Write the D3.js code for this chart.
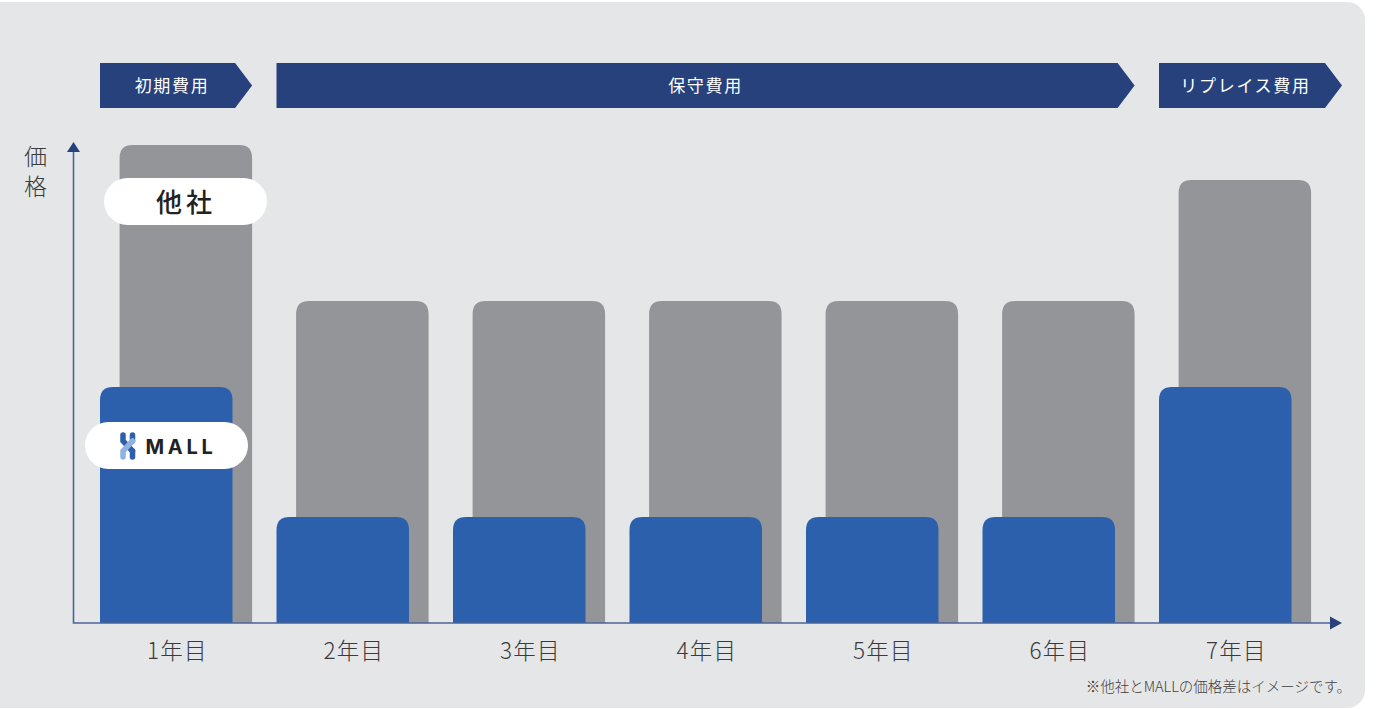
<!DOCTYPE html>
<html lang="ja">
<head>
<meta charset="utf-8">
<script src="https://cdn.jsdelivr.net/npm/d3@7"></script>
<style>
html, body { margin: 0; padding: 0; background: #fff; overflow: hidden; }
svg { display: block; }
text { font-family: "Noto Sans CJK JP", sans-serif; }
</style>
</head>
<body>
<svg id="chart" width="1382" height="709"></svg>
<script>
// data
var years = ["1年目", "2年目", "3年目", "4年目", "5年目", "6年目", "7年目"];
var otherValues = [478, 322, 322, 322, 322, 322, 443];
var mallValues = [236, 106, 106, 106, 106, 106, 236];
var phaseNames = ["初期費用", "保守費用", "リプレイス費用"];
var phaseFirst = [0, 1, 6];
var phaseLast = [0, 5, 6];

var width = 1382, height = 709;
var baseY = 623, barW = 132.5, barGap = 19.6;
var colors = { panel: "#e5e6e8", gray: "#949598", blue: "#2d60ac", navy: "#27417c", text: "#3a3a3a" };

var svg = d3.select("#chart");

var x = d3.scaleBand().domain(years).range([100, 1335.5]).padding(0);
var y = d3.scaleLinear().domain([0, 480]).range([baseY, baseY - 480]);

// panel, square on the right of the page edge
svg.append("rect")
    .attr("x", -20).attr("y", 2)
    .attr("width", 1385).attr("height", 706)
    .attr("rx", 18)
    .attr("fill", colors.panel);

// rounded top, square foot
function barPath(left, top, w, r) {
    return `M${left},${baseY}V${top + r}Q${left},${top} ${left + r},${top}` +
        `H${left + w - r}Q${left + w},${top} ${left + w},${top + r}V${baseY}Z`;
}

svg.append("g").selectAll("path")
    .data(years)
    .join("path")
    .attr("d", (d, i) => barPath(x(d) + barGap, y(otherValues[i]), barW, 13))
    .attr("fill", colors.gray);

svg.append("g").selectAll("path")
    .data(years)
    .join("path")
    .attr("d", (d, i) => barPath(x(d), y(mallValues[i]), barW, 13))
    .attr("fill", colors.blue);

// phase banners
var bannerTop = 63, bannerH = 45, tip = 17;
var bannerRight = i => i == 2 ? 1342 : x(years[phaseLast[i]]) + barW + barGap;
var banners = svg.append("g").selectAll("g")
    .data(phaseNames)
    .join("g");

banners.append("path")
    .attr("d", (d, i) => {
        var l = x(years[phaseFirst[i]]);
        var r = bannerRight(i);
        return `M${l},${bannerTop}H${r - tip}L${r},${bannerTop + bannerH / 2}L${r - tip},${bannerTop + bannerH}H${l}Z`;
    })
    .attr("fill", colors.navy);

banners.append("text")
    .attr("x", (d, i) => (x(years[phaseFirst[i]]) + bannerRight(i)) / 2 - (i == 1 ? 0 : i == 0 ? 4 : 5))
    .attr("y", bannerTop + bannerH / 2 + 6)
    .attr("text-anchor", "middle")
    .attr("fill", "#fff")
    .attr("font-size", 17)
    .attr("font-weight", 400)
    .attr("letter-spacing", 1.7)
    .text(d => d);

// axes
var xAxis = d3.axisBottom(x).tickSize(0).tickPadding(20);
var gx = svg.append("g")
    .attr("transform", `translate(-11,${baseY})`)
    .call(xAxis);
gx.select(".domain").remove();
gx.selectAll("text")
    .attr("font-size", 22.5)
    .attr("letter-spacing", 1.2)
    .attr("font-weight", 300)
    .attr("fill", colors.text)
    .style("font-family", '"Noto Sans CJK JP", sans-serif');

svg.append("path")
    .attr("d", `M73.5,150V${baseY}H1332`)
    .attr("fill", "none")
    .attr("stroke", "#4b649a")
    .attr("stroke-width", 1.6);
svg.append("path").attr("d", "M67,152L73.5,142L80,152Z").attr("fill", colors.navy);
svg.append("path").attr("d", `M1330,${baseY - 6.5}L1342,${baseY}L1330,${baseY + 6.5}Z`).attr("fill", colors.navy);

// one vertical text, the two glyphs stacked
svg.append("text")
    .attr("transform", "translate(35.5,145)")
    .style("writing-mode", "vertical-rl")
    .attr("font-size", 23)
    .attr("letter-spacing", 7)
    .attr("font-weight", 300)
    .attr("fill", colors.text)
    .text("価格");

// series tags
svg.append("rect").attr("x", 104).attr("y", 178).attr("width", 163).attr("height", 47).attr("rx", 23.5).attr("fill", "#fff");
svg.append("text").attr("x", 186).attr("y", 212).attr("text-anchor", "middle")
    .attr("font-size", 26).attr("font-weight", 500).attr("letter-spacing", 4).attr("fill", "#222").text("他社");

svg.append("rect").attr("x", 85).attr("y", 422).attr("width", 163).attr("height", 47).attr("rx", 23.5).attr("fill", "#fff");
svg.append("text").attr("x", 145.5).attr("y", 453.5).attr("font-size", 20).attr("font-weight", 700)
    .attr("letter-spacing", 3.7).attr("fill", "#222").style("font-family", "Inter, sans-serif").text("MALL");

// logo mark
var logo = svg.append("g").attr("fill", "none").attr("stroke-linecap", "round").attr("stroke-width", 5.5);
logo.append("path").attr("d", "M132.5,435V441").attr("stroke", "#2d60ac");
logo.append("path").attr("d", "M132.5,451V457").attr("stroke", "#2d60ac");
logo.append("path").attr("d", "M123,435V441L132.5,451").attr("stroke", "#2d60ac");
logo.append("path").attr("d", "M123,457V451L132.5,441").attr("stroke", "#8fb2e0");

// note
svg.append("text").attr("x", 1346).attr("y", 692).attr("text-anchor", "end")
    .attr("dx", 5)
    .attr("font-size", 14.5).attr("font-weight", 300).attr("fill", "#3f3f3f").text("※他社とMALLの価格差はイメージです。");
</script>
</body>
</html>
